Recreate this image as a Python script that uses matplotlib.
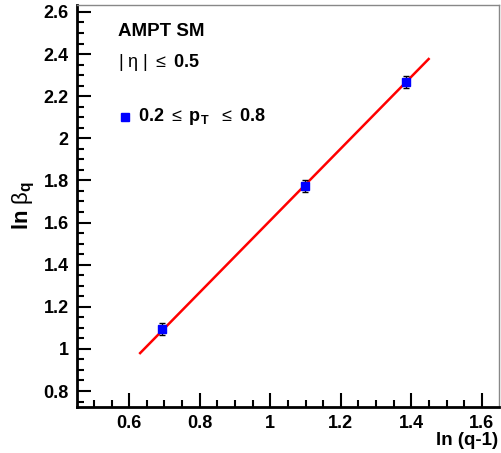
import matplotlib
matplotlib.use("Agg")
import matplotlib.pyplot as plt
from matplotlib.ticker import MultipleLocator
import numpy as np

plt.rcParams['font.family'] = ['Liberation Sans', 'DejaVu Sans']
plt.rcParams['mathtext.fontset'] = 'custom'
plt.rcParams['mathtext.rm'] = 'Liberation Sans'
plt.rcParams['mathtext.it'] = 'Liberation Sans'
plt.rcParams['mathtext.bf'] = 'Liberation Sans:bold'

# data: ln(q-1) for q = 3, 4, 5 and ln beta_q
lnq = [0.693, 1.099, 1.386]
lnbeta = [1.095, 1.775, 2.268]
err = [0.028, 0.028, 0.028]

# linear fit drawn over this range
fit_x = [0.631, 1.449]
fit_slope = 1.707
fit_icpt = -0.097

fig = plt.figure(figsize=(5.01, 4.53), dpi=100)
ax = fig.add_axes([0.1537, 0.1015, 0.842, 0.8875])

fx = np.array(fit_x)
ax.plot(fx, fit_slope * fx + fit_icpt, color="red", lw=1.8, zorder=2)
ax.errorbar(lnq, lnbeta, yerr=err, fmt="s", color="blue", ms=6, ecolor="black",
            elinewidth=1, capsize=2.5, capthick=1, zorder=3)

ax.set_xlim(0.452, 1.648)
ax.set_ylim(0.724, 2.633)

ax.xaxis.set_major_locator(MultipleLocator(0.2))
ax.xaxis.set_minor_locator(MultipleLocator(0.05))
ax.yaxis.set_major_locator(MultipleLocator(0.2))
ax.yaxis.set_minor_locator(MultipleLocator(0.05))
ax.xaxis.set_major_formatter(plt.FuncFormatter(lambda v, p: f"{v:g}"))
ax.yaxis.set_major_formatter(plt.FuncFormatter(lambda v, p: f"{v:g}"))

ax.tick_params(which="both", direction="in", top=False, right=False, width=1.5)
ax.tick_params(which="major", length=10, labelsize=13, pad=6)
ax.tick_params(which="minor", length=5)
for lab in ax.get_xticklabels() + ax.get_yticklabels():
    lab.set_fontweight("bold")

for s in ["left", "bottom"]:
    ax.spines[s].set_linewidth(2)
    ax.spines[s].set_color("black")
for s in ["top", "right"]:
    ax.spines[s].set_linewidth(1)
    ax.spines[s].set_color("#888888")

ax.text(0.097, 0.933, "AMPT SM", transform=ax.transAxes, fontsize=13.5,
        fontweight="bold", va="center")
ax.text(0.097, 0.858, r"$|\ \eta\ |\ \leq\ \mathbf{0.5}$", transform=ax.transAxes,
        fontsize=13, va="center")
ax.plot([0.114], [0.721], "s", color="blue", ms=6, transform=ax.transAxes)
ax.text(0.1445, 0.723, r"$\mathbf{0.2}\ \leq\ \mathbf{p_T}\ \ \leq\ \mathbf{0.8}$",
        transform=ax.transAxes, fontsize=13, va="center")

fig.text(0.048, 0.547, r"$\mathbf{ln}\ \beta_{\mathbf{q}}$", rotation=90,
         fontsize=16, ha="center", va="center")
fig.text(0.995, 0.028, "ln (q-1)", fontsize=13.5, fontweight="bold",
         ha="right", va="center")

fig.savefig("out.png", dpi=100)
